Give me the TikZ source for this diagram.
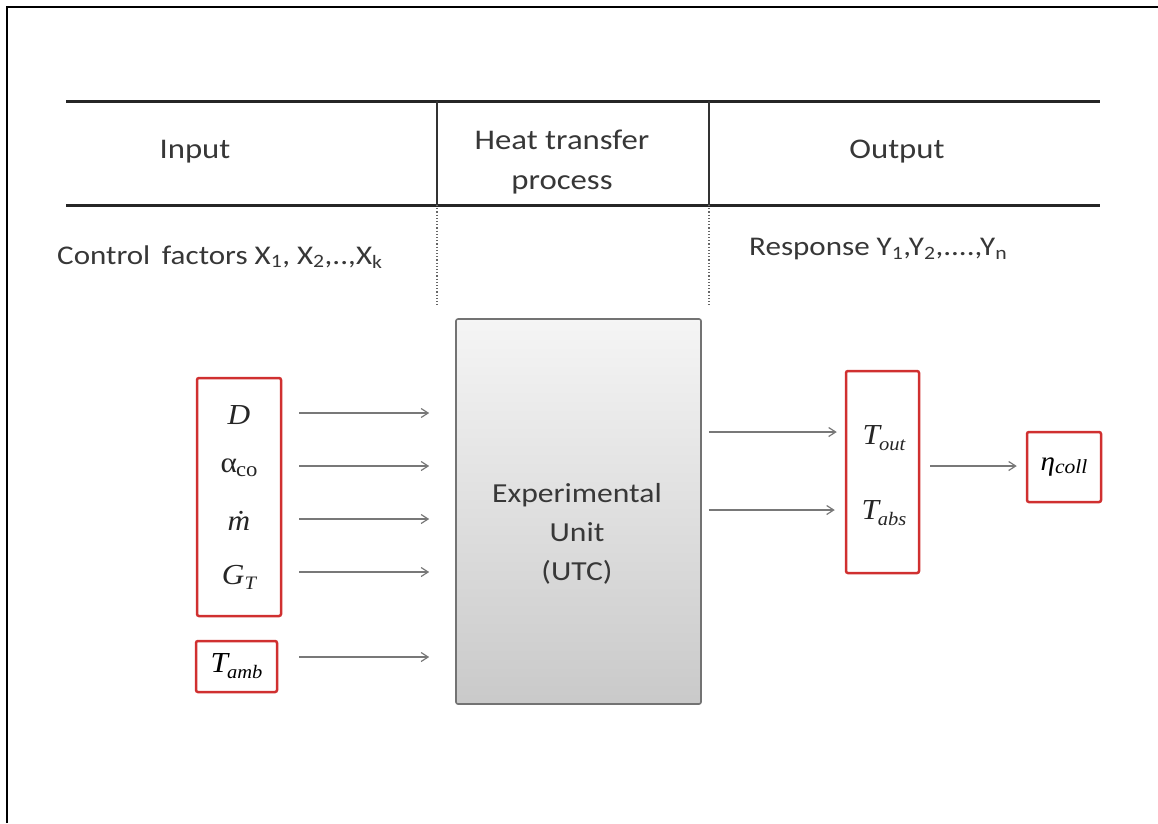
\documentclass[tikz,border=0pt]{standalone}
\usepackage{fontspec}
\setmainfont{Liberation Serif}
\newfontfamily\calib[FakeStretch=1.15]{Carlito}
\newfontfamily\tms[FakeStretch=1.08]{Liberation Serif}
\usetikzlibrary{arrows.meta}
\definecolor{boxred}{RGB}{208,48,48}
\definecolor{txtgray}{RGB}{55,55,55}
\definecolor{arrgray}{RGB}{120,120,120}
\tikzset{
  hdr/.style={font=\calib\fontsize{28.5}{40}\selectfont, text=txtgray, align=center, inner sep=0pt},
  sublbl/.style={font=\calib\fontsize{27}{30}\selectfont, text=txtgray, inner sep=0pt},
  var/.style={font=\tms\itshape\fontsize{29}{32}\selectfont, text=black!85, inner sep=0pt},
  redbox/.style={draw=boxred, line width=2.5pt, rounded corners=2pt, inner sep=0pt},
  arr/.style={draw=arrgray, line width=1.4pt, -{Straight Barb[length=7pt,width=9pt,line width=1.2pt]}},
  rule/.style={line width=3pt, draw=black!85},
  vrule/.style={line width=1.5pt, draw=black!80},
  drule/.style={line width=1.2pt, draw=black!60, dotted},
}
\begin{document}
\begin{tikzpicture}[x=1pt,y=-1pt]
\useasboundingbox (0,0) rectangle (1158,823);
% frame
\draw[line width=2pt] (7,823) -- (7,7) -- (1158,7);
% table
\draw[rule] (66,101) -- (1100,101);
\draw[rule] (66,205) -- (1100,205);
\draw[vrule] (437,101) -- (437,205);
\draw[vrule] (709,101) -- (709,205);
\draw[drule] (437,205) -- (437,306);
\draw[drule] (709,205) -- (709,306);
\node[hdr] (hin) at (195,152) {Input};
\node[hdr] (hht) at (562,162) {Heat transfer\\process};
\node[hdr] (hout) at (897,152) {Output};
\node[sublbl, anchor=west] (ctrl) at (57,257) {Control\, factors X\textsubscript{1}, X\textsubscript{2},..,X\textsubscript{k}};
\node[sublbl, anchor=west] (resp) at (749,249) {Response Y\textsubscript{1},Y\textsubscript{2},....,Y\textsubscript{n}};
% central unit
\node[draw=black!55, line width=1.6pt, rounded corners=2pt, top color=gray!8, bottom color=gray!42,
      minimum width=245pt, minimum height=385pt, inner sep=0pt] (unit) at (578.5,511.5) {};
\node[font=\calib\fontsize{27.5}{39}\selectfont, text=black!78, align=center, inner sep=0pt] (unitlbl) at (577,534)
      {Experimental\\Unit\\(UTC)};
% input box
\node[redbox, minimum width=84pt, minimum height=238pt] (inbox) at (239,497) {};
\node[var] (vD) at (239,415) {D};
\node[var] (va) at (239,468) {{\upshape α}\kern-1pt{\upshape\fontsize{21}{21}\selectfont\raisebox{-4pt}{co}}};
\node[var] (vm) at (239,521) {\makebox[0pt][l]{\hspace{0.28em}\upshape ˙}m};
\node[var] (vG) at (239,577) {G\raisebox{-5pt}{\fontsize{19}{19}\selectfont T}};
\node[redbox, minimum width=81pt, minimum height=51pt] (tamb) at (236.5,666.5)
  {\tms\itshape\fontsize{29}{32}\selectfont T\kern-1pt\raisebox{-6pt}{\fontsize{19}{19}\selectfont amb}};
% output box
\node[redbox, minimum width=73pt, minimum height=202pt] (outbox) at (882.5,472) {};
\node[var] (vTo) at (884,438) {T\kern-1pt\raisebox{-6pt}{\fontsize{19}{19}\selectfont out}};
\node[var] (vTa) at (884,513) {T\kern-1pt\raisebox{-6pt}{\fontsize{19}{19}\selectfont abs}};
\node[redbox, minimum width=74pt, minimum height=70pt] (eta) at (1064,467)
  {\tms\itshape\fontsize{27}{32}\selectfont η\raisebox{-3pt}{\fontsize{20}{20}\selectfont coll}};
% arrows in
\draw[arr, shorten <=17pt, shorten >=26pt] (inbox.east |- 0,413) -- (unit.west |- 0,413);
\draw[arr, shorten <=17pt, shorten >=26pt] (inbox.east |- 0,466) -- (unit.west |- 0,466);
\draw[arr, shorten <=17pt, shorten >=26pt] (inbox.east |- 0,519) -- (unit.west |- 0,519);
\draw[arr, shorten <=17pt, shorten >=26pt] (inbox.east |- 0,572) -- (unit.west |- 0,572);
\draw[arr, shorten <=21pt, shorten >=26pt] (tamb.east |- 0,657) -- (unit.west |- 0,657);
% arrows out
\draw[arr, shorten <=7pt, shorten >=8pt] (unit.east |- 0,432) -- (outbox.west |- 0,432);
\draw[arr, shorten <=7pt, shorten >=10pt] (unit.east |- 0,510) -- (outbox.west |- 0,510);
\draw[arr, shorten <=10pt, shorten >=9pt] (outbox.east |- 0,466) -- (eta.west |- 0,466);
\end{tikzpicture}
\end{document}
